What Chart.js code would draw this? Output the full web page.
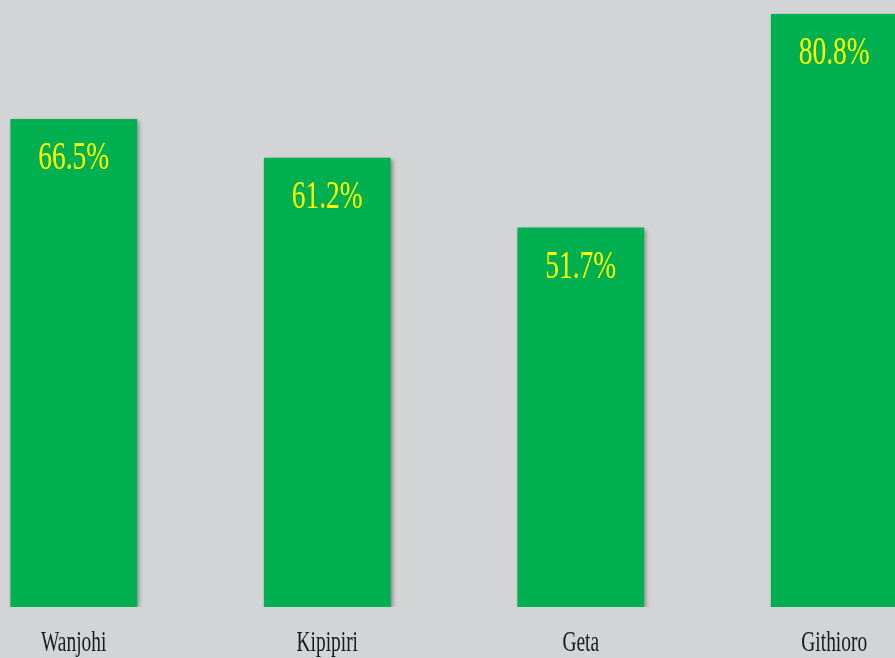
<!DOCTYPE html>
<html>
<head>
<meta charset="utf-8">
<script src="https://cdn.jsdelivr.net/npm/chart.js@4"></script>
<style>
  html, body { margin: 0; padding: 0; background: #d3d4d6; overflow: hidden; }
  #wrap { position: absolute; left: -53px; top: 0; width: 1014px; height: 658px; }
</style>
</head>
<body>
<div id="wrap"><canvas id="chart"></canvas></div>
<script>
const categories = ["Wanjohi", "Kipipiri", "Geta", "Githioro"];
const values = [66.5, 61.2, 51.7, 80.8];
const valueLabels = ["66.5%", "61.2%", "51.7%", "80.8%"];

// text in the picture is horizontally squeezed, so draw it condensed
const squeeze = 0.67;
const serif = "'Liberation Serif', 'DejaVu Serif', serif";

function condensedText(ctx, text, x, y, font, color) {
  ctx.save();
  ctx.font = font;
  ctx.fillStyle = color;
  ctx.textAlign = "center";
  ctx.textBaseline = "alphabetic";
  ctx.translate(x, y);
  ctx.scale(squeeze, 1);
  ctx.fillText(text, 0, 0);
  ctx.restore();
}

const barShadow = {
  id: "barShadow",
  beforeDatasetDraw(chart) {
    const ctx = chart.ctx;
    ctx.save();
    ctx.shadowColor = "rgba(0,0,0,0.35)";
    ctx.shadowBlur = 4;
    ctx.shadowOffsetX = 2;
    ctx.shadowOffsetY = 2;
  },
  afterDatasetDraw(chart) {
    chart.ctx.restore();
  },
};

const labelsPlugin = {
  id: "labelsPlugin",
  afterDatasetsDraw(chart) {
    const ctx = chart.ctx;
    const meta = chart.getDatasetMeta(0);
    const xScale = chart.scales.x;
    meta.data.forEach((bar, i) => {
      condensedText(ctx, valueLabels[i], bar.x, bar.y + 50, "41px " + serif, "#ffff00");
      condensedText(ctx, categories[i], xScale.getPixelForValue(i), 651, "29px " + serif, "#1a1a1a");
    });
  },
};

new Chart(document.getElementById("chart").getContext("2d"), {
  type: "bar",
  data: {
    labels: categories,
    datasets: [
      {
        data: values,
        backgroundColor: "#00b050",
        borderWidth: 0,
        barPercentage: 1,
        categoryPercentage: 0.5,
      },
    ],
  },
  options: {
    responsive: true,
    maintainAspectRatio: false,
    animation: false,
    layout: { padding: { top: 0, bottom: 51, left: 0, right: 0 } },
    plugins: {
      legend: { display: false },
      tooltip: { enabled: false },
    },
    scales: {
      x: { display: false, offset: true },
      y: { display: false, min: 0, max: 82.7 },
    },
  },
  plugins: [barShadow, labelsPlugin],
});
</script>
</body>
</html>
